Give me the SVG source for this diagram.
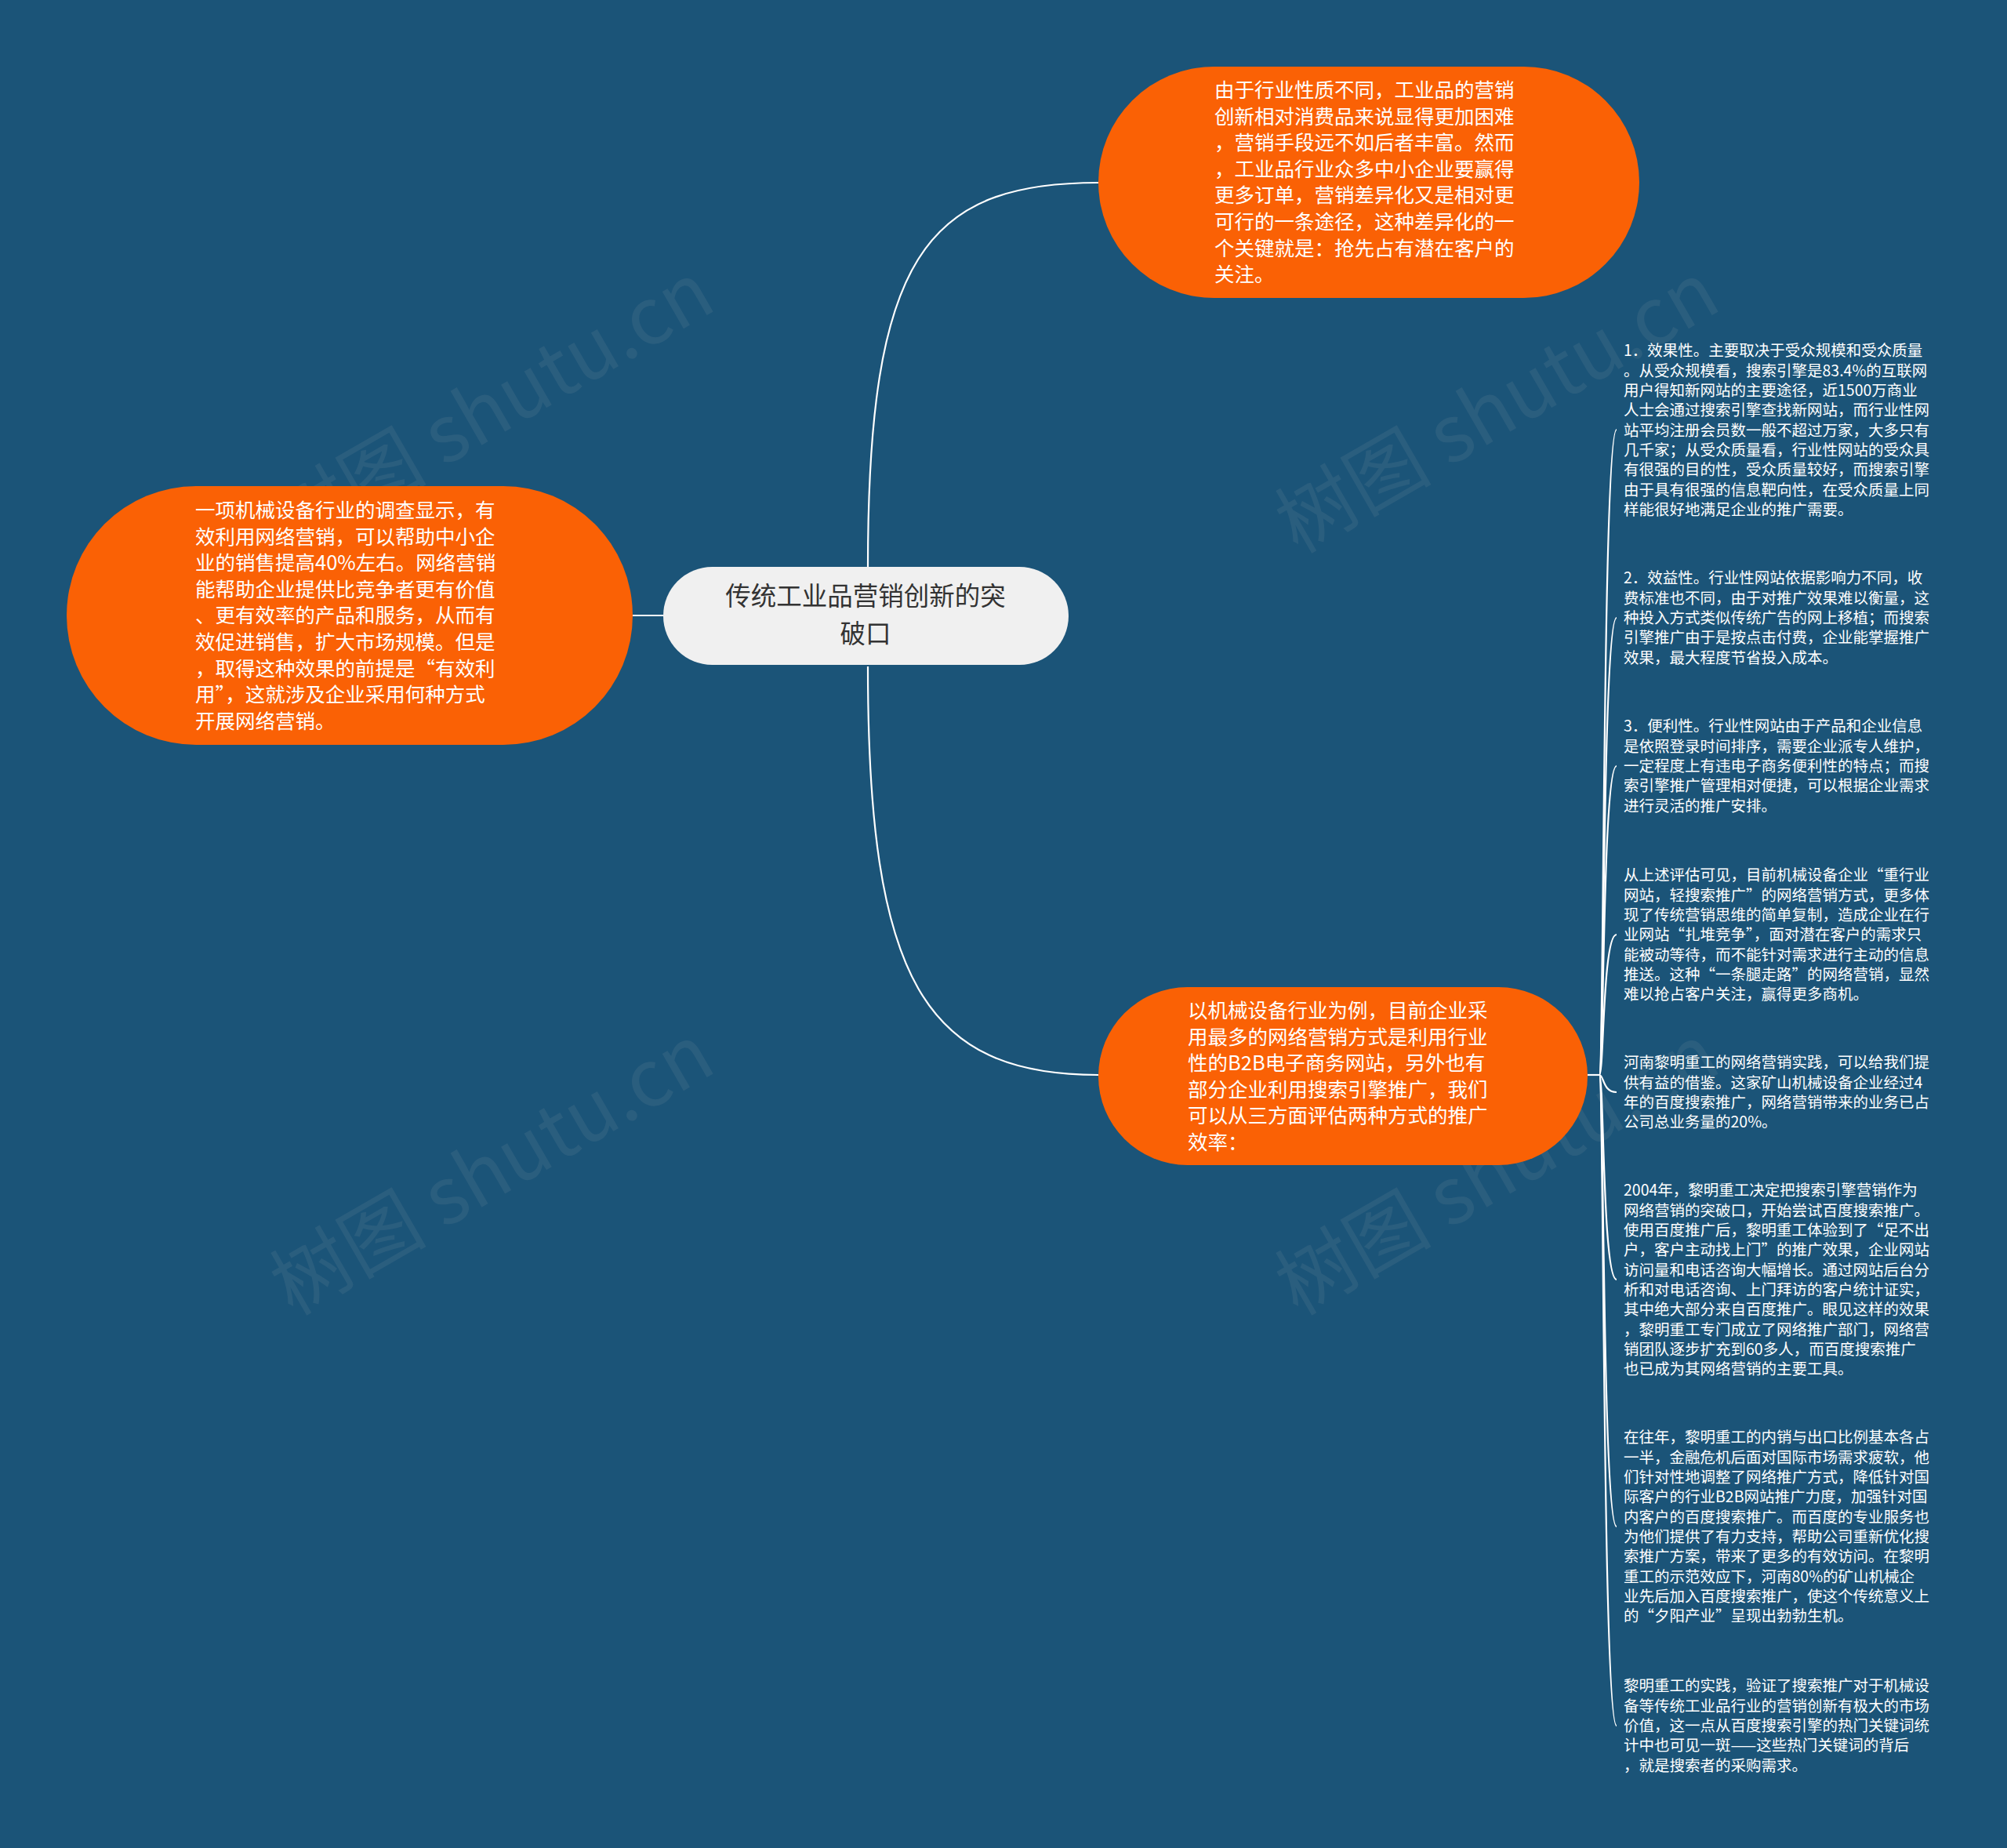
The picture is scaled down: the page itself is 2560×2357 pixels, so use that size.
<svg xmlns="http://www.w3.org/2000/svg" width="2560" height="2357" viewBox="0 0 2560 2357">
<defs>
<style>
.bg{fill:#1b5478}
.orange{fill:#fa6105}
.center{fill:#f0f0f0}
.t{font-family:"Noto Sans CJK SC","Noto Sans",sans-serif;}
.otxt{fill:#ffffff;font-size:25.5px}
.ctxt{fill:#333333;font-size:32.5px}
.ltxt{fill:#ffffff;font-size:19.5px}
.wm{font-family:"Noto Sans CJK SC",sans-serif;font-size:100px;fill:#9aa5ad;opacity:0.12}
.conn{fill:none;stroke:#ffffff;stroke-width:2.2}
</style>
</defs>
<rect class="bg" x="0" y="0" width="2560" height="2357"/>
<g id="watermarks">
<text class="wm" x="645" y="550" text-anchor="middle" transform="rotate(-30 645 550)">树图 shutu.cn</text>
<text class="wm" x="645" y="1522" text-anchor="middle" transform="rotate(-30 645 1522)">树图 shutu.cn</text>
<text class="wm" x="1927" y="550" text-anchor="middle" transform="rotate(-30 1927 550)">树图 shutu.cn</text>
<text class="wm" x="1927" y="1522" text-anchor="middle" transform="rotate(-30 1927 1522)">树图 shutu.cn</text>
</g>
<g id="connectors">
<path class="conn" d="M1107 724 C1107 330 1180 233 1401 233"/>
<path class="conn" d="M1107 850 C1107 1250 1180 1371 1401 1371"/>
<path class="conn" d="M846 785 L807 785"/>
<path class="conn" d="M2025 1371 L2040 1371"/>
<path class="conn" d="M2040 1371 C2046 1371 2044 548 2062 548"/>
<path class="conn" d="M2040 1371 C2046 1371 2044 788 2062 788"/>
<path class="conn" d="M2040 1371 C2046 1371 2044 977 2062 977"/>
<path class="conn" d="M2040 1371 C2046 1371 2044 1192 2062 1192"/>
<path class="conn" d="M2040 1371 C2046 1371 2044 1393 2062 1393"/>
<path class="conn" d="M2040 1371 C2046 1371 2044 1632 2062 1632"/>
<path class="conn" d="M2040 1371 C2046 1371 2044 1947 2062 1947"/>
<path class="conn" d="M2040 1371 C2046 1371 2044 2201 2062 2201"/>
</g>
<g id="node-center">
<rect class="center" x="846" y="723" width="517" height="125" rx="62.5"/>
<text class="t ctxt" text-anchor="middle"><tspan x="1104" y="772">传统工业品营销创新的突</tspan><tspan x="1104" y="819.5">破口</tspan></text>
</g>
<g id="node-top">
<rect class="orange" x="1401" y="85" width="690" height="295" rx="147.5"/>
<text class="t otxt"><tspan x="1549" y="124">由于行业性质不同，工业品的营销</tspan><tspan x="1549" y="157.6">创新相对消费品来说显得更加困难</tspan><tspan x="1549" y="191.2">，营销手段远不如后者丰富。然而</tspan><tspan x="1549" y="224.8">，工业品行业众多中小企业要赢得</tspan><tspan x="1549" y="258.4">更多订单，营销差异化又是相对更</tspan><tspan x="1549" y="292">可行的一条途径，这种差异化的一</tspan><tspan x="1549" y="325.6">个关键就是：抢先占有潜在客户的</tspan><tspan x="1549" y="359.2">关注。</tspan></text>
</g>
<g id="node-left">
<rect class="orange" x="85" y="620" width="722" height="330" rx="165"/>
<text class="t otxt"><tspan x="249" y="660">一项机械设备行业的调查显示，有</tspan><tspan x="249" y="693.6">效利用网络营销，可以帮助中小企</tspan><tspan x="249" y="727.2">业的销售提高40%左右。网络营销</tspan><tspan x="249" y="760.8">能帮助企业提供比竞争者更有价值</tspan><tspan x="249" y="794.4">、更有效率的产品和服务，从而有</tspan><tspan x="249" y="828">效促进销售，扩大市场规模。但是</tspan><tspan x="249" y="861.6">，取得这种效果的前提是“有效利</tspan><tspan x="249" y="895.2">用”，这就涉及企业采用何种方式</tspan><tspan x="249" y="928.8">开展网络营销。</tspan></text>
</g>
<g id="node-bottom">
<rect class="orange" x="1401" y="1259" width="624" height="227" rx="113.5"/>
<text class="t otxt"><tspan x="1515" y="1298">以机械设备行业为例，目前企业采</tspan><tspan x="1515" y="1331.6">用最多的网络营销方式是利用行业</tspan><tspan x="1515" y="1365.2">性的B2B电子商务网站，另外也有</tspan><tspan x="1515" y="1398.8">部分企业利用搜索引擎推广，我们</tspan><tspan x="1515" y="1432.4">可以从三方面评估两种方式的推广</tspan><tspan x="1515" y="1466">效率：</tspan></text>
</g>
<g id="leaf-1">
<text class="t ltxt"><tspan x="2071" y="454.4">1．效果性。主要取决于受众规模和受众质量</tspan><tspan x="2071" y="479.7">。从受众规模看，搜索引擎是83.4%的互联网</tspan><tspan x="2071" y="505">用户得知新网站的主要途径，近1500万商业</tspan><tspan x="2071" y="530.3">人士会通过搜索引擎查找新网站，而行业性网</tspan><tspan x="2071" y="555.6">站平均注册会员数一般不超过万家，大多只有</tspan><tspan x="2071" y="580.9">几千家；从受众质量看，行业性网站的受众具</tspan><tspan x="2071" y="606.2">有很强的目的性，受众质量较好，而搜索引擎</tspan><tspan x="2071" y="631.5">由于具有很强的信息靶向性，在受众质量上同</tspan><tspan x="2071" y="656.8">样能很好地满足企业的推广需要。</tspan></text>
</g>
<g id="leaf-2">
<text class="t ltxt"><tspan x="2071" y="744.4">2．效益性。行业性网站依据影响力不同，收</tspan><tspan x="2071" y="769.7">费标准也不同，由于对推广效果难以衡量，这</tspan><tspan x="2071" y="795">种投入方式类似传统广告的网上移植；而搜索</tspan><tspan x="2071" y="820.3">引擎推广由于是按点击付费，企业能掌握推广</tspan><tspan x="2071" y="845.6">效果，最大程度节省投入成本。</tspan></text>
</g>
<g id="leaf-3">
<text class="t ltxt"><tspan x="2071" y="933.4">3．便利性。行业性网站由于产品和企业信息</tspan><tspan x="2071" y="958.7">是依照登录时间排序，需要企业派专人维护，</tspan><tspan x="2071" y="984">一定程度上有违电子商务便利性的特点；而搜</tspan><tspan x="2071" y="1009.3">索引擎推广管理相对便捷，可以根据企业需求</tspan><tspan x="2071" y="1034.6">进行灵活的推广安排。</tspan></text>
</g>
<g id="leaf-4">
<text class="t ltxt"><tspan x="2071" y="1123.4">从上述评估可见，目前机械设备企业“重行业</tspan><tspan x="2071" y="1148.7">网站，轻搜索推广”的网络营销方式，更多体</tspan><tspan x="2071" y="1174">现了传统营销思维的简单复制，造成企业在行</tspan><tspan x="2071" y="1199.3">业网站“扎堆竞争”，面对潜在客户的需求只</tspan><tspan x="2071" y="1224.6">能被动等待，而不能针对需求进行主动的信息</tspan><tspan x="2071" y="1249.9">推送。这种“一条腿走路”的网络营销，显然</tspan><tspan x="2071" y="1275.2">难以抢占客户关注，赢得更多商机。</tspan></text>
</g>
<g id="leaf-5">
<text class="t ltxt"><tspan x="2071" y="1362.4">河南黎明重工的网络营销实践，可以给我们提</tspan><tspan x="2071" y="1387.7">供有益的借鉴。这家矿山机械设备企业经过4</tspan><tspan x="2071" y="1413">年的百度搜索推广，网络营销带来的业务已占</tspan><tspan x="2071" y="1438.3">公司总业务量的20%。</tspan></text>
</g>
<g id="leaf-6">
<text class="t ltxt"><tspan x="2071" y="1525.4">2004年，黎明重工决定把搜索引擎营销作为</tspan><tspan x="2071" y="1550.7">网络营销的突破口，开始尝试百度搜索推广。</tspan><tspan x="2071" y="1576">使用百度推广后，黎明重工体验到了“足不出</tspan><tspan x="2071" y="1601.3">户，客户主动找上门”的推广效果，企业网站</tspan><tspan x="2071" y="1626.6">访问量和电话咨询大幅增长。通过网站后台分</tspan><tspan x="2071" y="1651.9">析和对电话咨询、上门拜访的客户统计证实，</tspan><tspan x="2071" y="1677.2">其中绝大部分来自百度推广。眼见这样的效果</tspan><tspan x="2071" y="1702.5">，黎明重工专门成立了网络推广部门，网络营</tspan><tspan x="2071" y="1727.8">销团队逐步扩充到60多人，而百度搜索推广</tspan><tspan x="2071" y="1753.1">也已成为其网络营销的主要工具。</tspan></text>
</g>
<g id="leaf-7">
<text class="t ltxt"><tspan x="2071" y="1840.4">在往年，黎明重工的内销与出口比例基本各占</tspan><tspan x="2071" y="1865.7">一半，金融危机后面对国际市场需求疲软，他</tspan><tspan x="2071" y="1891">们针对性地调整了网络推广方式，降低针对国</tspan><tspan x="2071" y="1916.3">际客户的行业B2B网站推广力度，加强针对国</tspan><tspan x="2071" y="1941.6">内客户的百度搜索推广。而百度的专业服务也</tspan><tspan x="2071" y="1966.9">为他们提供了有力支持，帮助公司重新优化搜</tspan><tspan x="2071" y="1992.2">索推广方案，带来了更多的有效访问。在黎明</tspan><tspan x="2071" y="2017.5">重工的示范效应下，河南80%的矿山机械企</tspan><tspan x="2071" y="2042.8">业先后加入百度搜索推广，使这个传统意义上</tspan><tspan x="2071" y="2068.1">的“夕阳产业”呈现出勃勃生机。</tspan></text>
</g>
<g id="leaf-8">
<text class="t ltxt"><tspan x="2071" y="2157.4">黎明重工的实践，验证了搜索推广对于机械设</tspan><tspan x="2071" y="2182.7">备等传统工业品行业的营销创新有极大的市场</tspan><tspan x="2071" y="2208">价值，这一点从百度搜索引擎的热门关键词统</tspan><tspan x="2071" y="2233.3">计中也可见一斑——这些热门关键词的背后</tspan><tspan x="2071" y="2258.6">，就是搜索者的采购需求。</tspan></text>
</g>
</svg>
